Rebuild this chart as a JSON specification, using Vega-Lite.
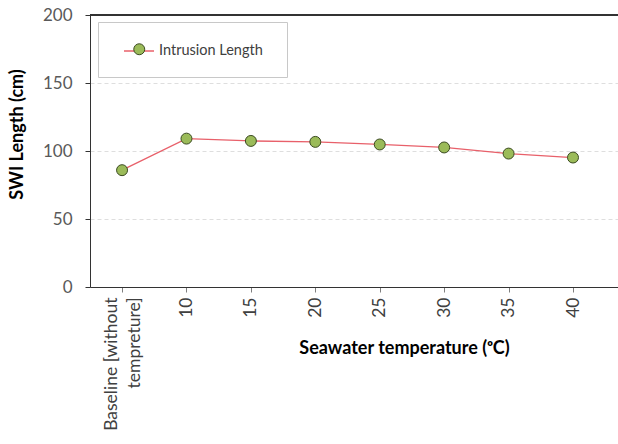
{
  "$schema": "https://vega.github.io/schema/vega-lite/v6.json",
  "width": 528,
  "height": 272,
  "autosize": {"type": "none"},
  "padding": {"left": 90, "top": 15, "right": 0, "bottom": 157},
  "background": "white",
  "config": {"view": {"stroke": null}, "font": "Lato"},
  "data": {
    "values": [
      {"temp": "Baseline", "length": 85.9, "series": "Intrusion Length"},
      {"temp": "10", "length": 109.1, "series": "Intrusion Length"},
      {"temp": "15", "length": 107.4, "series": "Intrusion Length"},
      {"temp": "20", "length": 106.7, "series": "Intrusion Length"},
      {"temp": "25", "length": 104.8, "series": "Intrusion Length"},
      {"temp": "30", "length": 102.6, "series": "Intrusion Length"},
      {"temp": "35", "length": 98.1, "series": "Intrusion Length"},
      {"temp": "40", "length": 95.2, "series": "Intrusion Length"}
    ]
  },
  "layer": [
    {
      "mark": {"type": "rule", "color": "#333333", "strokeWidth": 1},
      "encoding": {
        "y": {"datum": 200, "type": "quantitative", "scale": {"domain": [0, 200], "nice": false}}
      }
    },
    {
      "mark": {"type": "line", "strokeWidth": 1.3},
      "encoding": {
        "x": {
          "field": "temp",
          "type": "nominal",
          "sort": null,
          "scale": {"type": "point", "padding": 0.598, "align": 0.416},
          "axis": {
            "title": "Seawater temperature (ᵒC)",
            "labelAngle": -90,
            "labelAlign": "right",
            "labelBaseline": "middle",
            "labelExpr": "datum.value == 'Baseline' ? ['Baseline [without', 'tempreture]'] : datum.value",
            "labelLineHeight": 23,
            "labelOffset": {"condition": {"test": "datum.value == 'Baseline'", "value": -11}, "value": 0},
            "labelFontSize": 17.5,
            "labelColor": "#404040",
            "labelPadding": 5,
            "tickSize": 5,
            "tickColor": "#7f7f7f",
            "domainColor": "#333333",
            "titleFontSize": 18,
            "titleFontWeight": "bold",
            "titleColor": "#000000",
            "titleX": 314,
            "titleY": 61,
            "titleAlign": "center",
            "titleBaseline": "middle"
          }
        },
        "y": {
          "field": "length",
          "type": "quantitative",
          "scale": {"domain": [0, 200], "nice": false},
          "axis": {
            "title": "SWI Length (cm)",
            "values": [0, 50, 100, 150, 200],
            "grid": true,
            "gridDash": [4, 3],
            "gridColor": "#dedede",
            "domainColor": "#333333",
            "tickColor": "#333333",
            "tickSize": 5,
            "labelFontSize": 17,
            "labelColor": "#595959",
            "labelPadding": 13,
            "titleFontSize": 18,
            "titleFontWeight": "bold",
            "titleColor": "#000000",
            "titleX": -73,
            "titleY": 119,
            "titleBaseline": "middle",
            "titleAlign": "center"
          }
        },
        "stroke": {
          "field": "series",
          "type": "nominal",
          "scale": {"domain": ["Intrusion Length"], "range": ["#E8606A"]},
          "legend": {
            "orient": "none",
            "legendX": 33,
            "legendY": 20,
            "title": null,
            "padding": 0,
            "symbolType": "stroke",
            "symbolSize": 900,
            "symbolStrokeWidth": 1.5,
            "labelFont": "Lato",
            "labelFontSize": 14.5,
            "labelColor": "#404040",
            "labelOffset": 4
          }
        }
      }
    },
    {
      "mark": {"type": "point", "filled": true, "size": 120, "stroke": "#3a4a20", "strokeWidth": 1, "opacity": 1},
      "encoding": {
        "x": {"field": "temp", "type": "nominal", "sort": null},
        "y": {"field": "length", "type": "quantitative"},
        "fill": {
          "field": "series",
          "type": "nominal",
          "scale": {"range": ["#9BBB59"]},
          "legend": {
            "orient": "none",
            "legendX": 8,
            "legendY": 7,
            "title": null,
            "padding": 20,
            "strokeColor": "#c8c8c8",
            "symbolType": "circle",
            "symbolSize": 120,
            "symbolOffset": 14,
            "symbolStrokeColor": "#3a4a20",
            "symbolStrokeWidth": 1,
            "symbolOpacity": 1,
            "labelExpr": "''",
            "labelFontSize": 14.5,
            "labelOffset": 120
          }
        }
      }
    }
  ]
}
